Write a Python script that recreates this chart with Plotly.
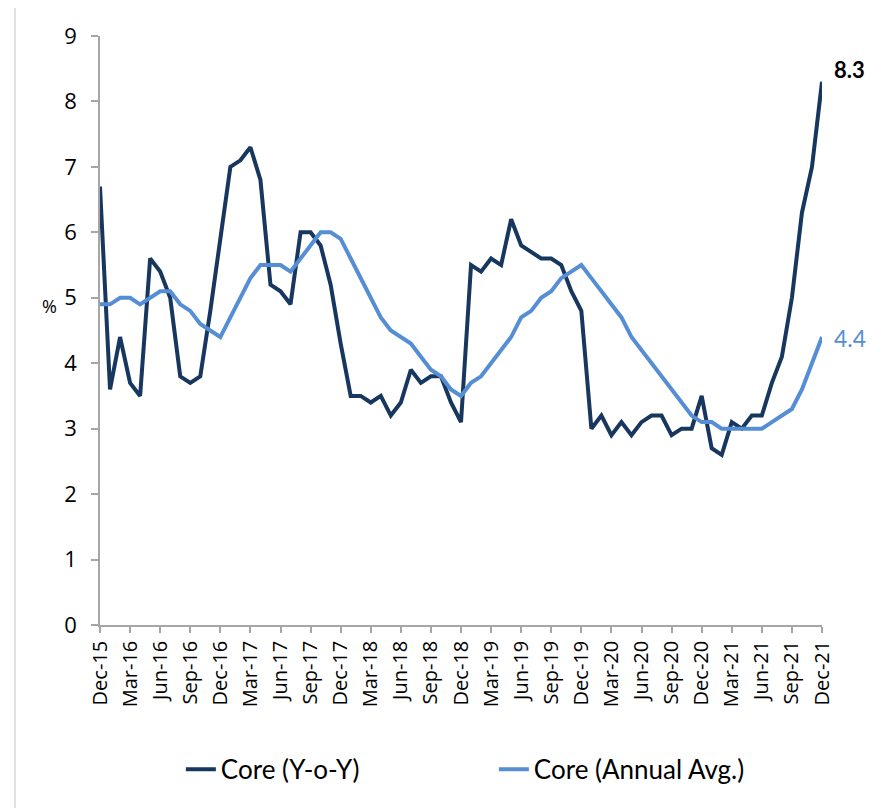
import pandas as pd
import plotly.graph_objects as go

# months Dec-15 .. Dec-21
months = [d.strftime("%b-%y") for d in pd.date_range("2015-12-01", "2021-12-01", freq="MS")]

core_yoy = [
    6.7,
    3.6, 4.4, 3.7, 3.5, 5.6, 5.4, 5.0, 3.8, 3.7, 3.8, 4.8, 5.9,
    7.0, 7.1, 7.3, 6.8, 5.2, 5.1, 4.9, 6.0, 6.0, 5.8, 5.2, 4.3,
    3.5, 3.5, 3.4, 3.5, 3.2, 3.4, 3.9, 3.7, 3.8, 3.8, 3.4, 3.1,
    5.5, 5.4, 5.6, 5.5, 6.2, 5.8, 5.7, 5.6, 5.6, 5.5, 5.1, 4.8,
    3.0, 3.2, 2.9, 3.1, 2.9, 3.1, 3.2, 3.2, 2.9, 3.0, 3.0, 3.5,
    2.7, 2.6, 3.1, 3.0, 3.2, 3.2, 3.7, 4.1, 5.0, 6.3, 7.0, 8.3,
]

core_annual_avg = [
    4.9,
    4.9, 5.0, 5.0, 4.9, 5.0, 5.1, 5.1, 4.9, 4.8, 4.6, 4.5, 4.4,
    4.7, 5.0, 5.3, 5.5, 5.5, 5.5, 5.4, 5.6, 5.8, 6.0, 6.0, 5.9,
    5.6, 5.3, 5.0, 4.7, 4.5, 4.4, 4.3, 4.1, 3.9, 3.8, 3.6, 3.5,
    3.7, 3.8, 4.0, 4.2, 4.4, 4.7, 4.8, 5.0, 5.1, 5.3, 5.4, 5.5,
    5.3, 5.1, 4.9, 4.7, 4.4, 4.2, 4.0, 3.8, 3.6, 3.4, 3.2, 3.1,
    3.1, 3.0, 3.0, 3.0, 3.0, 3.0, 3.1, 3.2, 3.3, 3.6, 4.0, 4.4,
]

tick_labels = months[::3]

DARK = "#17375E"
LIGHT = "#558ED5"
AXIS = "#A6A6A6"

fig = go.Figure()

fig.add_trace(go.Scatter(
    x=months, y=core_yoy, name="Core (Y-o-Y)", mode="lines",
    line=dict(color=DARK, width=4)))

fig.add_trace(go.Scatter(
    x=months, y=core_annual_avg, name="Core (Annual Avg.)", mode="lines",
    line=dict(color=LIGHT, width=4)))

fig.add_annotation(x=months[-1], y=core_yoy[-1], text="<b>8.3</b>", showarrow=False,
                   xanchor="left", xshift=10, yshift=12,
                   font=dict(family="Lato", size=22, color="black"))
fig.add_annotation(x=months[-1], y=core_annual_avg[-1], text="4.4", showarrow=False,
                   xanchor="left", xshift=10, yshift=-1,
                   font=dict(family="Lato", size=23, color=LIGHT))
fig.add_annotation(xref="paper", yref="paper", x=-0.083, y=0.542, text="%",
                   showarrow=False, font=dict(family="Open Sans", size=18, color="black"))

# outer frame
fig.add_shape(type="rect", xref="paper", yref="paper",
              x0=-0.1177, x1=1.0762, y0=-0.32, y1=1.056,
              line=dict(color="#D9D9D9", width=1.5))

# page body has an 8px margin, so the figure is sized to fit inside the window
fig.update_layout(
    width=873, height=800,
    margin=dict(l=92, r=59, t=28, b=183),
    plot_bgcolor="white", paper_bgcolor="white",
    showlegend=True,
    legend=dict(orientation="h", x=0.112, y=-0.245, xanchor="left", yanchor="middle",
                entrywidth=268, entrywidthmode="pixels",
                font=dict(family="Lato", size=26, color="black")),
    xaxis=dict(type="category", range=[0, 72], tickmode="array",
               tickvals=tick_labels, ticktext=tick_labels, tickangle=-90,
               showline=True, linecolor=AXIS, linewidth=1.5,
               ticks="outside", tickcolor=AXIS, ticklen=6, tickwidth=1.5,
               showgrid=False, zeroline=False,
               tickfont=dict(family="Open Sans", size=20, color="black")),
    yaxis=dict(range=[0, 9], dtick=1, showline=True, linecolor=AXIS, linewidth=1.5,
               ticks="outside", tickcolor=AXIS, ticklen=7, tickwidth=1.5,
               showgrid=False, zeroline=False, ticklabelstandoff=10,
               tickfont=dict(family="Open Sans", size=22, color="black")),
)

fig.write_html("out.html")
